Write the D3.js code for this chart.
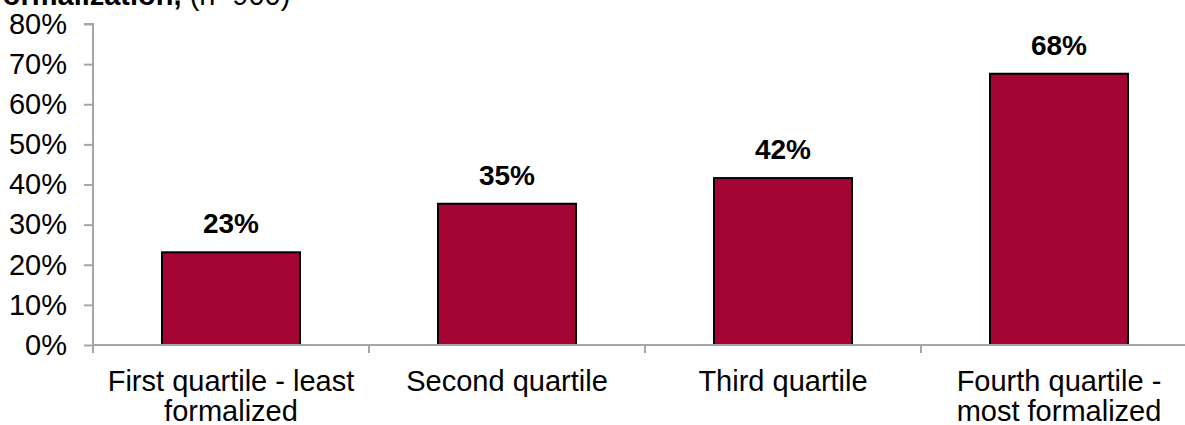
<!DOCTYPE html>
<html>
<head>
<meta charset="utf-8">
<script src="https://cdn.jsdelivr.net/npm/d3@7"></script>
<style>
    body { margin: 0; background: #fff; }
    text { font-family: "Liberation Sans", Arial, sans-serif; }
</style>
</head>
<body>
<svg id="chart"></svg>
<script>
const width = 1185,
      height = 425;

// chart data
const categories = [
    ["First quartile - least", "formalized"],
    ["Second quartile"],
    ["Third quartile"],
    ["Fourth quartile -", "most formalized"]
];
const values = [23.1, 35.2, 41.6, 67.6];
const valueLabels = ["23%", "35%", "42%", "68%"];
const yTicks = [0, 10, 20, 30, 40, 50, 60, 70, 80];

const MARGIN = { LEFT: 93, RIGHT: -12, TOP: 24, BOTTOM: 80 };
const FONT = "29px";

const svg = d3.select("#chart").attr("width", width).attr("height", height);

const x = d3.scaleBand()
    .domain(d3.range(categories.length))
    .range([MARGIN.LEFT, width - MARGIN.RIGHT])
    .padding(0);

const y = d3.scaleLinear()
    .domain([0, 80])
    .range([height - MARGIN.BOTTOM, MARGIN.TOP]);

const axisColor = "#a6a6a6";

// title, cut off at the top like the source
const title = svg.append("text").attr("x", -15).attr("y", 5).style("font-size", FONT);
title.append("tspan").style("font-weight", "bold").text("Formalization,");
title.append("tspan").text(" (n=900)");

// y axis
const yAxis = svg.append("g")
    .attr("transform", `translate(${MARGIN.LEFT},0)`)
    .call(d3.axisLeft(y).tickValues(yTicks).tickSize(9).tickPadding(17).tickFormat(d => d + "%"));
yAxis.select(".domain").attr("stroke", axisColor).attr("stroke-width", 2)
    .attr("d", `M-9,${y(80)}H0V${y(0)}`);
yAxis.selectAll(".tick line").attr("stroke", axisColor).attr("stroke-width", 2);
yAxis.selectAll(".tick text").attr("fill", "#000").style("font-size", FONT)
    .attr("font-family", "Liberation Sans, Arial, sans-serif");

// bars
svg.append("g").selectAll("rect")
    .data(values)
    .join("rect")
    .attr("x", (d, i) => x(i) + x.bandwidth() / 4)
    .attr("width", x.bandwidth() / 2)
    .attr("y", d => y(d))
    .attr("height", d => y(0) - y(d))
    .attr("fill", "#a50534")
    .attr("stroke", "#000")
    .attr("stroke-width", 2);

// x axis
const xAxisG = svg.append("g").attr("transform", `translate(0,${y(0)})`);
xAxisG.append("line")
    .attr("x1", MARGIN.LEFT).attr("x2", width)
    .attr("stroke", axisColor).attr("stroke-width", 2);
xAxisG.selectAll(".tk")
    .data(d3.range(categories.length))
    .join("line")
    .attr("class", "tk")
    .attr("x1", i => x(i)).attr("x2", i => x(i))
    .attr("y1", 0).attr("y2", 8)
    .attr("stroke", axisColor).attr("stroke-width", 2);

// category labels
svg.append("g").selectAll("text")
    .data(categories)
    .join("text")
    .attr("text-anchor", "middle")
    .style("font-size", FONT)
    .each(function (lines, i) {
        d3.select(this).selectAll("tspan")
            .data(lines)
            .join("tspan")
            .attr("x", x(i) + x.bandwidth() / 2)
            .attr("y", (l, j) => y(0) + 46 + j * 30)
            .text(l => l);
    });

// value labels
svg.append("g").selectAll("text")
    .data(values)
    .join("text")
    .attr("text-anchor", "middle")
    .attr("x", (d, i) => x(i) + x.bandwidth() / 2)
    .attr("y", d => y(d) - 19)
    .style("font-size", "28px")
    .style("font-weight", "bold")
    .text((d, i) => valueLabels[i]);
</script>
</body>
</html>
